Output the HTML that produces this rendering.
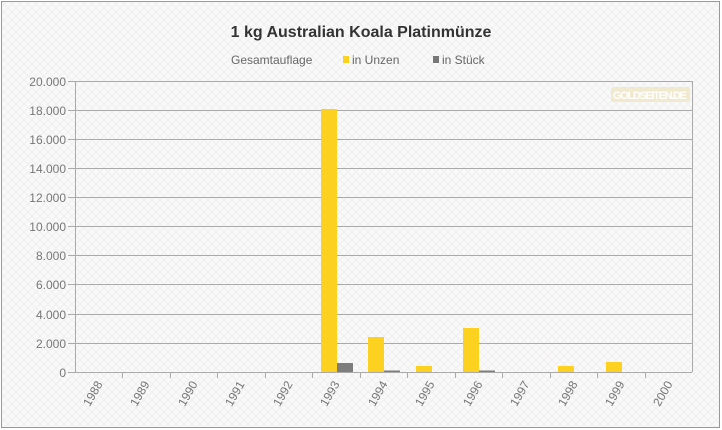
<!DOCTYPE html>
<html><head><meta charset="utf-8"><style>
body{margin:0;background:#fff}
svg{display:block;font-family:"Liberation Sans",sans-serif}
</style></head><body>
<svg width="722" height="430" xmlns="http://www.w3.org/2000/svg">
<defs><pattern id="p" width="8" height="8" patternUnits="userSpaceOnUse"><rect width="8" height="8" fill="#f9f9f9"/><path d="M0 0L8 8M8 0L0 8" stroke="#f0f0f0" stroke-width="1"/></pattern></defs>
<rect x="1.5" y="1.5" width="718" height="426" fill="url(#p)" stroke="#999" stroke-width="1"/>
<text x="361" y="37" text-anchor="middle" font-size="16" font-weight="bold" fill="#333">1 kg Australian Koala Platinmünze</text>
<g font-size="12" fill="#666">
<text x="231" y="64">Gesamtauflage</text>
<rect x="343" y="56" width="6" height="7" fill="#fdd11f"/><text x="352" y="64">in Unzen</text>
<rect x="433" y="56" width="6" height="7" fill="#777"/><text x="442" y="64">in Stück</text>
</g>
<g stroke="#aaa" stroke-width="1">
<line x1="68" y1="81.5" x2="692" y2="81.5"/><line x1="68" y1="110.5" x2="692" y2="110.5"/><line x1="68" y1="139.5" x2="692" y2="139.5"/><line x1="68" y1="168.5" x2="692" y2="168.5"/><line x1="68" y1="197.5" x2="692" y2="197.5"/><line x1="68" y1="226.5" x2="692" y2="226.5"/><line x1="68" y1="255.5" x2="692" y2="255.5"/><line x1="68" y1="284.5" x2="692" y2="284.5"/><line x1="68" y1="314.5" x2="692" y2="314.5"/><line x1="68" y1="343.5" x2="692" y2="343.5"/><line x1="68" y1="372.5" x2="692" y2="372.5"/>
<line x1="75.5" y1="81" x2="75.5" y2="372"/><line x1="692.5" y1="81" x2="692.5" y2="372"/>
</g>
<g font-size="12" fill="#777" text-anchor="end">
<text x="66" y="86">20.000</text><text x="66" y="115">18.000</text><text x="66" y="144">16.000</text><text x="66" y="173">14.000</text><text x="66" y="202">12.000</text><text x="66" y="231">10.000</text><text x="66" y="260">8.000</text><text x="66" y="289">6.000</text><text x="66" y="319">4.000</text><text x="66" y="348">2.000</text><text x="66" y="377">0</text>
</g>
<rect x="611" y="87" width="79" height="15" rx="2" fill="#efe6c4" opacity="0.8"/>
<text x="650" y="99" text-anchor="middle" font-size="11" font-weight="bold" fill="#fff" textLength="74">GOLDSEITEN.DE</text>
<g fill="#fdd11f">
<rect x="321" y="109" width="16" height="263"/>
<rect x="368" y="337" width="16" height="35"/>
<rect x="416" y="366" width="16" height="6"/>
<rect x="463" y="328" width="16" height="44"/>
<rect x="558" y="366" width="16" height="6"/>
<rect x="606" y="362" width="16" height="10"/>
</g>
<g fill="#7d7d7d">
<rect x="337" y="363" width="16" height="9"/>
<rect x="384" y="370.5" width="16" height="1.5"/>
<rect x="479" y="370.5" width="16" height="1.5"/>
</g>
<g stroke="#aaa"><line x1="122.5" y1="372" x2="122.5" y2="378"/><line x1="170.5" y1="372" x2="170.5" y2="378"/><line x1="217.5" y1="372" x2="217.5" y2="378"/><line x1="265.5" y1="372" x2="265.5" y2="378"/><line x1="312.5" y1="372" x2="312.5" y2="378"/><line x1="360.5" y1="372" x2="360.5" y2="378"/><line x1="407.5" y1="372" x2="407.5" y2="378"/><line x1="455.5" y1="372" x2="455.5" y2="378"/><line x1="502.5" y1="372" x2="502.5" y2="378"/><line x1="550.5" y1="372" x2="550.5" y2="378"/><line x1="597.5" y1="372" x2="597.5" y2="378"/><line x1="645.5" y1="372" x2="645.5" y2="378"/></g>
<g font-size="12" fill="#777" text-anchor="end">
<text transform="translate(103,384) rotate(-60)">1988</text>
<text transform="translate(150,384) rotate(-60)">1989</text>
<text transform="translate(198,384) rotate(-60)">1990</text>
<text transform="translate(245,384) rotate(-60)">1991</text>
<text transform="translate(293,384) rotate(-60)">1992</text>
<text transform="translate(340,384) rotate(-60)">1993</text>
<text transform="translate(388,384) rotate(-60)">1994</text>
<text transform="translate(435,384) rotate(-60)">1995</text>
<text transform="translate(483,384) rotate(-60)">1996</text>
<text transform="translate(530,384) rotate(-60)">1997</text>
<text transform="translate(578,384) rotate(-60)">1998</text>
<text transform="translate(625,384) rotate(-60)">1999</text>
<text transform="translate(673,384) rotate(-60)">2000</text>
</g>
</svg>
</body></html>
